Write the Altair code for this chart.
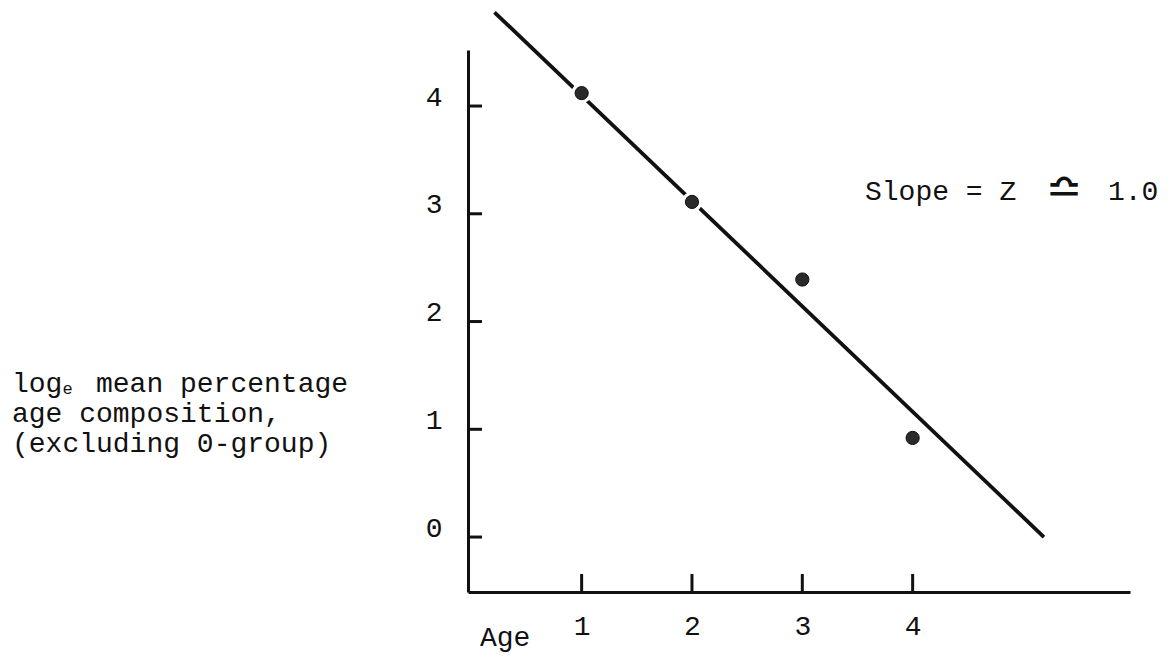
import altair as alt
import pandas as pd

# ---- data ----
ages = [1, 2, 3, 4]
log_pct = [4.12, 3.11, 2.39, 0.92]
fit_x = [0.21, 5.19]
fit_y = [4.87, 0.0]
y_tick_vals = [0, 1, 2, 3, 4]
x_tick_vals = [1, 2, 3, 4]
title_first = ["log", "e", "mean percentage"]
title_lines = ["age composition,", "(excluding 0-group)"]
slope_parts = ["Slope = Z", "\u224f", "1.0"]
x_label = "Age"

# ---- layout / style ----
W, H = 662, 542
X_DOM = [-0.03, 5.97]
Y_DOM = [-0.51, 4.52]
FONT = "Liberation Mono"
FS = 28
CW = 0.6 * FS
INK = "#111111"

xs = alt.Scale(domain=X_DOM, nice=False, zero=False)
ys = alt.Scale(domain=Y_DOM, nice=False, zero=False)

x_axis = alt.Axis(values=x_tick_vals, ticks=False, tickSize=0, grid=False, title=None,
                  domainColor=INK, domainWidth=3, labelFont=FONT, labelFontSize=FS,
                  labelColor=INK, labelPadding=20)
y_axis = alt.Axis(values=y_tick_vals, ticks=False, tickSize=0, grid=False, title=None,
                  domainColor=INK, domainWidth=3, labelFont=FONT, labelFontSize=FS,
                  labelColor=INK, labelPadding=26, labelOffset=-9)


def X(f):
    return alt.X(f, scale=xs, axis=x_axis)


def Y(f):
    return alt.Y(f, scale=ys, axis=y_axis)


pts = pd.DataFrame({"age": ages, "v": log_pct})
fit = pd.DataFrame({"age": fit_x, "v": fit_y})
yt = pd.DataFrame({"v": y_tick_vals})
xt = pd.DataFrame({"age": x_tick_vals})

y_ticks = alt.Chart(yt).mark_rule(color=INK, strokeWidth=3).encode(
    y=Y("v:Q"), x=alt.value(0), x2=alt.value(14)
)
x_ticks = alt.Chart(xt).mark_rule(color=INK, strokeWidth=3).encode(
    x=X("age:Q"), y=alt.value(H), y2=alt.value(H - 18)
)

line = alt.Chart(fit).mark_line(color=INK, strokeWidth=3.8, clip=False).encode(
    x=X("age:Q"), y=Y("v:Q")
)

halo = alt.Chart(pts).mark_circle(color="white", size=420, opacity=1).encode(
    x=X("age:Q"), y=Y("v:Q")
)
dots = alt.Chart(pts).mark_circle(color="#2a2a2a", size=175, opacity=1,
                                  stroke=INK, strokeWidth=1).encode(
    x=X("age:Q"), y=Y("v:Q")
)

one = pd.DataFrame({"k": [0]})


def label(s, x, y, size=FS, align="left", font=FONT):
    return alt.Chart(one).mark_text(align=align, baseline="middle", font=font,
                                    fontSize=size, color=INK).encode(
        x=alt.value(x), y=alt.value(y), text=alt.value(s))


TX = -456
title_y = [334, 364, 394]
texts = [
    label(title_first[0], TX, title_y[0]),
    label(title_first[1], TX + 3 * CW, title_y[0] + 5, size=17),
    label(title_first[2], TX + 5 * CW, title_y[0]),
]
for s, yy in zip(title_lines, title_y[1:]):
    texts.append(label(s, TX, yy))
texts.append(label(slope_parts[0], 397, 142))
texts.append(label(slope_parts[1], 596, 140, size=44, align="center", font="DejaVu Sans"))
texts.append(label(slope_parts[2], 640, 142))
texts.append(label(x_label, 12, 588))

chart = alt.layer(y_ticks, x_ticks, line, halo, dots, *texts).properties(
    width=W, height=H,
    padding={"left": 468, "top": 50, "right": 41, "bottom": 67},
    autosize=alt.AutoSizeParams(type="none"),
    background="white",
).configure_view(stroke=None)

chart.save("out.html", embed_options={"renderer": "svg", "actions": False})
